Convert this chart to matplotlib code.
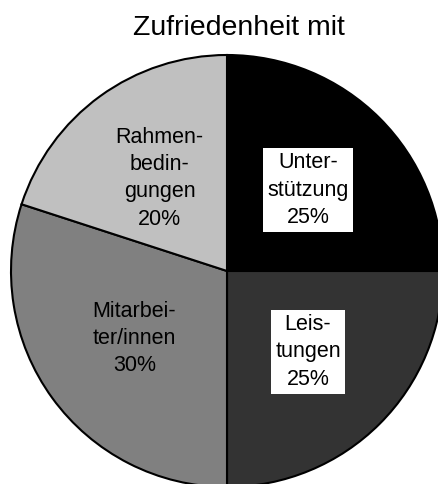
import matplotlib.pyplot as plt

# Zufriedenheit mit ... (Anteile in %)
labels = ['Unter-\nstützung', 'Leis-\ntungen', 'Mitarbei-\nter/innen', 'Rahmen-\nbedin-\ngungen']
values = [25, 25, 30, 20]
colors = ['#000000', '#333333', '#808080', '#c0c0c0']
boxed = [True, True, False, False]

plt.rcParams['font.family'] = ['Liberation Sans', 'DejaVu Sans']

fig = plt.figure(figsize=(4.38, 4.84), dpi=100)
ax = fig.add_axes([0, 0, 1, 1])

texts = [f'{l}\n{v}%' for l, v in zip(labels, values)]
wedges, txts = ax.pie(values, labels=texts, colors=colors, startangle=90, counterclock=False,
                      radius=216, center=(227, 213), labeldistance=0.53,
                      wedgeprops=dict(edgecolor='black', linewidth=1.5),
                      textprops=dict(fontsize=15.5, color='black'))

for t, b in zip(txts, boxed):
    t.set_ha('center')
    t.set_va('center')
    t.set_multialignment('center')
    t.set_linespacing(1.38)
    if b:
        t.set_bbox(dict(boxstyle='square,pad=0.2', fc='white', ec='none'))

ax.set_xlim(0, 438)
ax.set_ylim(0, 484)
ax.set_aspect('equal')
ax.axis('off')

fig.text(239 / 438, 1 - 28 / 484, 'Zufriedenheit mit', ha='center', va='center', fontsize=20.5)

fig.savefig('out.png', dpi=100)
